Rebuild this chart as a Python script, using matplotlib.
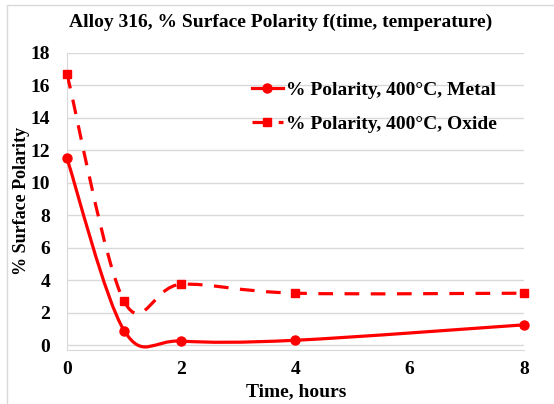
import numpy as np
import matplotlib.pyplot as plt
from matplotlib.path import Path
from matplotlib.patches import PathPatch
from matplotlib.lines import Line2D

plt.rcParams['font.family'] = ['Liberation Serif', 'DejaVu Serif']
plt.rcParams['font.weight'] = 'bold'

# data
time_h = [0, 1, 2, 4, 8]
metal = [11.5, 0.9, 0.25, 0.3, 1.25]
oxide = [16.7, 2.7, 3.75, 3.2, 3.2]
labels = ['% Polarity, 400°C, Metal', '% Polarity, 400°C, Oxide']
red = '#FF0000'
dash = (0, (4.6, 3.6))


def smooth_path(x, y):
    # Excel-like smoothed line: cubic Bezier through every point
    p = np.column_stack([x, y]).astype(float)
    ext = np.vstack([p[0], p, p[-1]])
    verts = [p[0]]
    codes = [Path.MOVETO]
    for i in range(len(p) - 1):
        p0, p1, p2, p3 = ext[i], ext[i + 1], ext[i + 2], ext[i + 3]
        c1 = p1 + (p2 - p0) / 6
        c2 = p2 - (p3 - p1) / 6
        verts += [c1, c2, p2]
        codes += [Path.CURVE4] * 3
    return Path(verts, codes)


fig = plt.figure(figsize=(5.54, 4.04), dpi=100)
ax = fig.add_axes([67 / 554, 54 / 404, 457 / 554, 297 / 404])

# chart border (top and left edges only are visible)
fig.add_artist(Line2D([7 / 554, 7 / 554, 1], [0, 1 - 5 / 404, 1 - 5 / 404],
                      transform=fig.transFigure, color='#D9D9D9', lw=1))

ax.add_patch(PathPatch(smooth_path(time_h, metal), fill=False, edgecolor=red, lw=2.3,
                       capstyle='butt', zorder=3))
ax.add_patch(PathPatch(smooth_path(time_h, oxide), fill=False, edgecolor=red, lw=2.3,
                       linestyle=dash, capstyle='butt', zorder=3))
ax.plot(time_h, metal, 'o', color=red, ms=6.5, clip_on=False, zorder=4)
ax.plot(time_h, oxide, 's', color=red, ms=6, clip_on=False, zorder=4)

ax.set_xlim(0, 8)
ax.set_ylim(-0.3, 18)
ax.set_yticks(range(0, 19, 2))
ax.set_xticks(range(0, 9, 2))
ax.grid(axis='y', color='#D9D9D9', lw=1)
ax.set_axisbelow(True)
for s in ['top', 'right']:
    ax.spines[s].set_visible(False)
for s in ['left', 'bottom']:
    ax.spines[s].set_color('#D9D9D9')
ax.tick_params(length=0, labelsize=14)
ax.tick_params(axis='y', pad=12)
ax.tick_params(axis='x', pad=8)
for t in ax.get_xticklabels() + ax.get_yticklabels():
    t.set_fontweight('bold')

fig.text(281 / 554, 1 - 22 / 404, 'Alloy 316, % Surface Polarity f(time, temperature)',
         fontsize=14, fontweight='bold', ha='center', va='center')
fig.text(296 / 554, 1 - 392 / 404, 'Time, hours', fontsize=14, fontweight='bold',
         ha='center', va='center')
fig.text(22 / 554, 1 - 201 / 404, '% Surface Polarity', fontsize=13, fontweight='bold',
         ha='center', va='center', rotation=90)

handles = [Line2D([], [], color=red, lw=2.3, marker='o', ms=6.5),
           Line2D([], [], color=red, lw=2.3, marker='s', ms=6, linestyle=dash)]
ax.legend(handles, labels, loc='upper left', bbox_to_anchor=(236 / 554, 1 - 66 / 404),
          bbox_transform=fig.transFigure, frameon=False, handlelength=1.6, handletextpad=0.15,
          labelspacing=0.85, borderpad=0.3, prop={'size': 14, 'weight': 'bold'})

fig.savefig('out.png', dpi=100)
